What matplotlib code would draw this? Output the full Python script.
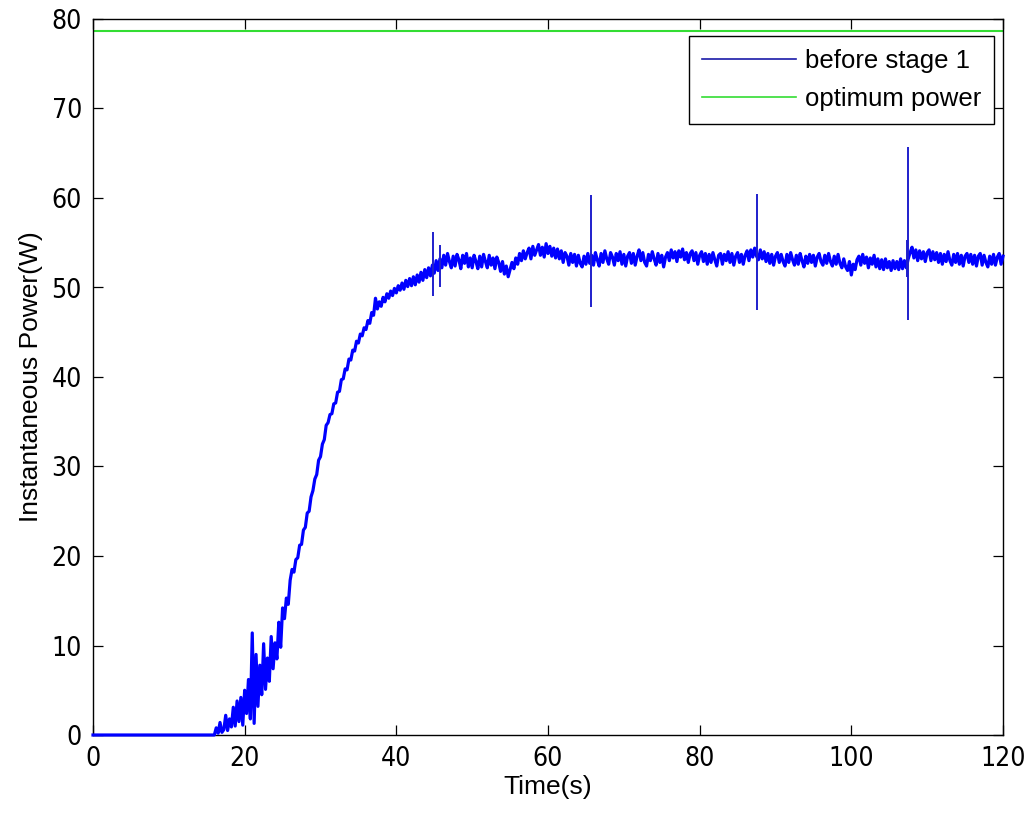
import numpy as np
import matplotlib
matplotlib.use("Agg")
import matplotlib.pyplot as plt
from matplotlib import font_manager
from matplotlib.font_manager import FontProperties

# ---------------- data ----------------
zero_times = [0.0, 15.8]
zero_values = [0.0, 0.0]

t_start, t_step = 16.0, 0.25
power_values = [
    0.0, 0.8, 0.2, 1.4, 0.3, 0.6, 2.2, 0.5, 1.8, 0.9, 3.1, 1.0, 3.8, 1.5, 4.2, 1.1, 5.0, 2.4, 6.2, 1.8,            # 16-20.75
    11.4, 1.3, 9.0, 3.2, 7.8, 4.5, 10.2, 5.1, 8.6, 6.0, 11.0, 7.4, 10.3, 8.5, 12.6, 9.8, 14.2, 13.0, 15.3, 14.6,   # 21-25.75
    17.3, 18.5, 18.2, 19.6, 19.8, 21.2, 21.3, 22.9, 23.2, 24.8, 25.0, 26.6, 27.3, 28.6, 29.1, 30.7, 31.1, 32.5, 33.0, 34.6,  # 26-30.75
    34.9, 35.8, 35.9, 37.0, 37.1, 38.3, 38.4, 39.7, 39.8, 40.9, 40.8, 42.0, 41.9, 43.0, 42.9, 44.0, 43.8, 44.8, 44.6, 45.5,  # 31-35.75
    45.3, 46.3, 46.0, 47.2, 46.9, 48.8, 47.6, 48.4, 47.9, 48.9, 48.4, 49.3, 48.8, 49.6, 49.1, 49.9, 49.4, 50.2, 49.7, 50.5,  # 36-40.75
    49.8, 50.8, 50.1, 51.0, 50.2, 51.2, 50.3, 51.4, 50.6, 51.7, 50.8, 52.0, 51.1, 52.2, 51.3, 52.5, 51.6, 53.0, 51.9, 53.2,  # 41-45.75
    52.2, 53.6, 52.5, 53.8, 52.9, 52.2, 53.5, 52.4, 53.7, 53.1, 52.1, 53.6, 52.7, 53.8, 52.3, 53.3, 52.2, 53.6, 52.9, 52.1,  # 46-50.75
    53.5, 52.3, 53.7, 52.9, 52.2, 53.6, 52.5, 53.3, 52.1, 53.4, 52.8, 51.8, 52.9, 51.5, 52.4, 51.2, 52.0, 52.8, 52.1, 53.3,  # 51-55.75
    52.6, 53.8, 53.0, 54.1, 53.2, 53.9, 54.4, 53.2, 54.6, 53.6, 54.2, 54.8, 53.6, 54.5, 53.4, 54.9, 53.8, 54.6, 53.5, 54.4,  # 56-60.75
    53.3, 54.3, 53.2, 54.1, 52.8, 53.9, 53.5, 52.5, 53.8, 52.8, 53.7, 52.4, 53.6, 52.7, 52.3, 53.5, 52.6, 53.8, 52.7, 53.6,  # 61-65.75
    52.5, 53.9, 53.1, 52.4, 53.8, 52.8, 54.1, 53.2, 52.6, 53.9, 53.4, 52.5, 53.8, 53.0, 54.0, 52.6, 53.7, 52.4, 53.5, 53.9,  # 66-70.75
    52.7, 53.8, 52.5, 53.5, 54.2, 53.0, 53.9, 52.8, 52.4, 53.7, 53.0, 54.0, 53.2, 52.5, 53.8, 52.8, 53.6, 52.3, 53.4, 53.9,  # 71-75.75
    53.0, 54.2, 53.3, 54.0, 52.9, 54.1, 53.4, 54.3, 53.1, 53.9, 52.8, 53.8, 54.1, 53.0, 53.9, 52.6, 53.6, 54.0, 52.9, 53.8,  # 76-80.75
    52.6, 53.7, 52.8, 53.9, 53.1, 52.4, 53.6, 53.8, 52.6, 53.7, 53.0, 54.0, 52.8, 53.8, 52.5, 53.5, 53.9, 52.8, 53.7, 52.6,  # 81-85.75
    53.6, 54.1, 53.0, 54.2, 53.4, 54.4, 53.5, 53.1, 54.2, 53.2, 54.0, 52.9, 53.8, 52.7, 53.7, 52.5, 53.5, 53.9, 52.8, 53.7,  # 86-90.75
    52.9, 52.4, 53.7, 52.8, 53.9, 53.1, 52.5, 53.6, 52.6, 53.8, 53.0, 52.3, 53.5, 52.7, 53.7, 52.8, 53.6, 52.4, 53.4, 53.8,  # 91-95.75
    52.9, 52.5, 53.6, 52.7, 53.8, 52.9, 52.4, 53.5, 52.6, 53.7, 52.7, 52.2, 53.2, 52.3, 51.9, 52.9, 51.4, 52.6, 52.0, 53.1,  # 96-100.75
    53.5, 52.5, 53.7, 52.7, 53.4, 52.2, 53.3, 52.6, 53.6, 52.3, 53.2, 52.1, 53.1, 52.0, 53.2, 52.2, 52.9, 51.9, 53.0, 52.1,  # 101-105.75
    52.9, 52.0, 53.2, 52.1, 53.0, 52.2, 53.2, 53.9, 54.5, 53.3, 54.2, 53.0, 54.1, 53.2, 54.0, 52.9, 53.9, 54.2, 53.0, 54.0,  # 106-110.75
    53.1, 53.9, 52.8, 53.8, 52.6, 53.7, 52.9, 54.0, 53.0, 52.5, 53.7, 52.8, 53.8, 52.6, 53.6, 52.4, 53.5, 53.8, 52.8, 53.7,  # 111-115.75
    52.6, 53.6, 52.4, 53.5, 53.8, 52.5, 53.6, 52.8, 52.3, 53.5, 52.6, 53.7, 52.5, 53.4, 53.8, 52.6, 53.5,                    # 116-120
]

spike_times = [44.8, 45.7, 65.7, 87.6, 107.3, 107.5]
spike_tops = [56.2, 54.7, 60.3, 60.5, 55.3, 65.7]
spike_bottoms = [49.1, 50.1, 47.8, 47.5, 51.2, 46.4]

optimum_power = 78.7

x_ticks = [0, 20, 40, 60, 80, 100, 120]
y_ticks = [0, 10, 20, 30, 40, 50, 60, 70, 80]
series_labels = ["before stage 1", "optimum power"]

# ---------------- assemble series ----------------
sample_times = t_start + t_step * np.arange(len(power_values))
t_all = np.concatenate([zero_times, sample_times])
p_all = np.concatenate([zero_values, power_values])

# ---------------- fonts ----------------
narrow_file = None
for f in font_manager.fontManager.ttflist:
    nm = f.name.lower()
    if ("narrow" in nm or "condensed" in nm or str(f.stretch) in ("condensed", "semi-condensed", "300", "400")) \
            and f.weight in ("normal", 400, "regular", "book") and f.style == "normal" and "mono" not in nm:
        narrow_file = f.fname
        if "sans" in nm:
            break
if narrow_file:
    tick_fp = FontProperties(fname=narrow_file, size=19)
else:
    tick_fp = FontProperties(family=["Liberation Sans", "DejaVu Sans"], size=18)
text_family = ["Liberation Sans", "DejaVu Sans"]

fig = plt.figure(figsize=(10.29, 8.14), dpi=100)
ax = fig.add_axes([93 / 1029, 1 - 735 / 814, 910 / 1029, 716 / 814])

ax.plot(t_all, p_all, color="#0000ff", lw=2.3, label=series_labels[0], clip_on=False, zorder=3)
ax.vlines(spike_times, spike_bottoms, spike_tops, color="#1f1fcc", lw=1.4, zorder=3)
ax.plot([0, 120], [optimum_power, optimum_power], color="#33dd33", lw=1.5, label=series_labels[1], zorder=2)

ax.set_xlim(0, 120)
ax.set_ylim(0, 80)
ax.set_xticks(x_ticks)
ax.set_yticks(y_ticks)
ax.tick_params(direction="in", length=7, width=0.9, top=True, right=True, pad=8)
for lab in ax.get_xticklabels() + ax.get_yticklabels():
    lab.set_fontproperties(tick_fp)
for s in ax.spines.values():
    s.set_linewidth(1.0)
    s.set_color("black")

ax.set_xlabel("Time(s)", fontsize=19, family=text_family, labelpad=2)
ax.set_ylabel("Instantaneous Power(W)", fontsize=19, family=text_family, labelpad=6)

leg = ax.legend(loc="upper right", bbox_to_anchor=((994 - 93) / 910, (735 - 36) / 716),
                prop={"family": text_family, "size": 18.5},
                frameon=True, fancybox=False, edgecolor="black", framealpha=1,
                handlelength=3.65, borderaxespad=0.0, labelspacing=0.55, borderpad=0.5,
                handletextpad=0.36)
leg.get_frame().set_linewidth(1.0)
leg.get_lines()[0].set_color("#1a1aa8")
for h in leg.get_lines():
    h.set_linewidth(1.2)

fig.savefig("out.png", dpi=100)
